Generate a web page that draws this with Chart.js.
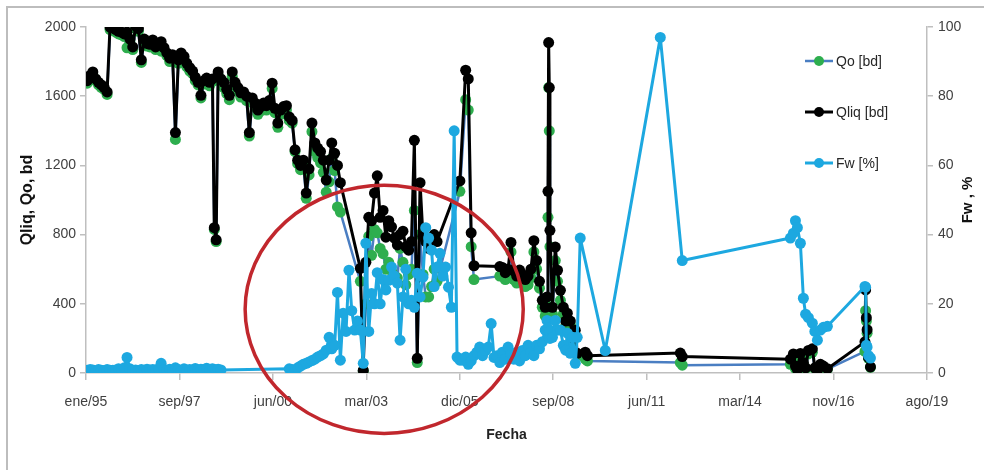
<!DOCTYPE html>
<html>
<head>
<meta charset="utf-8">
<script src="https://cdn.jsdelivr.net/npm/chart.js@4.4.1/dist/chart.umd.min.js"></script>
<style>
  html, body { margin: 0; padding: 0; background: #ffffff; }
  #wrap { width: 984px; height: 470px; position: relative; }
</style>
</head>
<body>
<div id="wrap"><canvas id="prod" width="984" height="470"></canvas></div>
<script>
// Production history of the well: liquid rate, oil rate and water cut.
const dates = [
  // 1995
  '1995-01','1995-02','1995-03','1995-04','1995-05','1995-06','1995-07','1995-08','1995-09','1995-10','1995-11','1995-12',
  // 1996
  '1996-01','1996-02','1996-03','1996-04','1996-05','1996-06','1996-07','1996-08','1996-09','1996-10','1996-11','1996-12',
  // 1997
  '1997-01','1997-02','1997-03','1997-04','1997-05','1997-06','1997-07','1997-08','1997-09','1997-10','1997-11','1997-12',
  // 1998
  '1998-01','1998-02','1998-03','1998-04','1998-05','1998-06','1998-07','1998-08','1998-09','1998-10-05','1998-10-25','1998-11','1998-12',
  // 1999
  '1999-01','1999-02','1999-03','1999-04','1999-05','1999-06','1999-07','1999-08','1999-09','1999-10','1999-11','1999-12',
  // 2000
  '2000-01','2000-02','2000-03','2000-04','2000-05','2000-06','2000-07','2000-08','2000-09','2000-10','2000-11','2000-12',
  // 2001
  '2001-01','2001-02','2001-03','2001-04','2001-05','2001-06','2001-07','2001-08','2001-09','2001-10','2001-11','2001-12',
  // 2002
  '2002-01','2002-02','2002-03','2002-04','2002-05','2002-06','2002-07','2002-08','2002-09','2002-10','2002-11','2002-12',
  // 2003
  '2003-01','2003-02','2003-03','2003-04','2003-05','2003-06','2003-07','2003-08','2003-09','2003-10','2003-11','2003-12',
  // 2004
  '2004-01','2004-02','2004-03','2004-04','2004-05','2004-06','2004-07','2004-08','2004-09','2004-10','2004-11','2004-12',
  // 2005
  '2005-01','2005-02','2005-03','2005-04','2005-05','2005-06','2005-07','2005-08','2005-09','2005-10','2005-11','2005-12',
  // 2006
  '2006-01','2006-02','2006-03','2006-04','2006-05','2006-06','2006-07','2006-08','2006-09','2006-10','2006-11','2006-12',
  // 2007
  '2007-01','2007-02','2007-03','2007-04','2007-05','2007-06','2007-07','2007-08','2007-09','2007-10','2007-11','2007-12',
  // 2008 (first half)
  '2008-01','2008-02','2008-03','2008-04','2008-05','2008-06',
  // 2008 - 2012, irregular tests
  '2008-07-05','2008-07-15','2008-07-22','2008-07-29','2008-08-05','2008-09-01','2008-10-01','2008-10-25','2008-11-25','2008-12-26',
  '2009-01-20','2009-02-07','2009-03-11','2009-04-05','2009-05-03','2009-05-24','2009-06-25','2009-08-18','2009-09-10',
  '2010-03-20','2011-10-30','2012-05-31','2012-06-21',
  // 2015 - 2016
  '2015-08-22','2015-09-23','2015-10-15','2015-11-05','2015-12-07','2016-01-08','2016-02-01','2016-03-02','2016-04-13',
  '2016-05-10','2016-06-06','2016-07-08','2016-08-09','2016-09-21',
  // 2017
  '2017-10-28','2017-11-04','2017-11-12','2017-11-20','2017-12-05','2017-12-26'
];

// Liquid rate, bd
const qliq = [
  1690,1720,1740,1700,1680,1665,1650,1625,2000,1995,1985,1975,
  1970,1960,1970,1930,1885,2005,1990,1810,1930,1905,1900,1925,
  1885,1900,1915,1880,1850,1820,1840,1390,1810,1850,1830,1790,
  1765,1745,1710,1680,1605,1690,1705,1680,1700,840,770,1740,1700,
  1680,1640,1605,1740,1680,1650,1620,1625,1600,1390,1590,1560,
  1520,1540,1560,1545,1575,1675,1530,1445,1520,1540,1545,1480,
  1460,1290,1230,1200,1230,1040,1180,1445,1330,1300,1280,1230,
  1115,1230,1330,1270,1200,1100,null,null,null,null,null,null,
  605,15,640,900,880,1040,1140,900,940,785,880,845,
  780,740,800,820,730,710,760,1345,85,1100,790,760,
  720,770,800,760,null,null,null,null,null,null,null,1110,
  null,1750,1700,810,620,null,null,null,null,null,null,null,
  null,615,610,580,600,755,590,560,595,570,540,560,
  600,765,650,530,420,380,
  440,1050,1910,1650,825,380,728,594,478,380,
  300,346,300,200,247,114,null,120,100,
  null,null,115,95,
  80,110,40,20,113,60,30,130,140,
  30,15,50,40,25,
  180,480,320,250,90,35
];

// Oil rate, bd
const qo = [
  1675,1705,1725,1690,1665,1650,1640,1610,1985,1980,1970,1960,
  1955,1945,1880,1915,1870,1990,1975,1795,1915,1890,1885,1910,
  1870,1885,1860,1865,1835,1800,1820,1350,1790,1835,1810,1770,
  1745,1730,1690,1665,1590,1670,1690,1660,1685,830,760,1720,1680,
  1650,1615,1580,1715,1655,1625,1595,1600,1575,1370,1565,1535,
  1495,1515,1535,1520,1550,1645,1505,1420,1495,1515,1520,1460,
  1445,1280,1210,1175,1200,1010,1145,1395,1280,1245,1215,1160,
  1045,1105,1240,1170,960,930,null,null,null,null,null,null,
  530,12,400,790,680,830,810,720,690,600,640,590,
  560,550,720,640,510,570,600,940,60,800,570,440,
  440,500,600,530,null,null,null,null,null,null,null,1050,
  null,1580,1520,730,540,null,null,null,null,null,null,null,
  null,560,560,540,550,700,540,520,560,530,500,510,
  550,700,600,490,380,330,
  390,900,1650,1400,730,340,650,530,420,340,
  270,310,280,180,220,100,null,80,70,
  null,null,60,45,
  50,65,25,12,90,50,25,110,120,
  25,13,45,35,22,
  125,360,300,230,85,33
];

// Water cut, %
const fw = [
  0.8,1.0,0.9,0.6,1.0,0.8,0.7,1.0,0.8,0.8,0.9,1.2,
  1.0,1.5,4.5,1.2,0.8,0.9,0.7,1.0,0.8,1.1,0.9,1.0,
  0.9,1.2,2.8,1.0,0.8,1.1,0.9,1.5,1.0,0.7,1.2,0.9,
  1.0,0.8,1.3,0.9,1.1,1.0,1.4,0.8,1.2,1.0,0.9,1.1,0.9,
  null,null,null,null,null,null,null,null,null,null,null,null,
  null,null,null,null,null,null,null,null,null,null,null,1.2,
  1.0,0.5,1.5,2.0,2.5,2.8,3.2,3.6,4.0,4.6,5.0,5.5,
  6.6,10.3,7.0,8.0,23.3,3.7,17.3,12.0,29.7,18.0,12.4,15.0,
  12.4,2.8,37.5,12.0,23.0,20.0,29.0,20.0,27.0,24.0,26.8,30.6,
  28.0,26.0,9.5,22.0,30.0,20.0,21.0,19.0,28.8,22.0,27.7,42.0,
  39.0,35.5,25.0,30.6,34.6,28.0,30.6,24.8,19.0,70.0,4.6,3.7,
  3.7,4.6,2.5,3.5,5.0,6.0,7.5,5.0,6.5,7.5,14.3,4.5,
  5.0,3.0,6.0,4.0,7.5,5.5,4.0,6.0,3.5,6.5,5.0,8.0,
  6.0,5.0,8.0,7.0,9.0,12.4,
  15.2,13.0,10.3,12.0,10.0,10.3,15.2,12.4,12.4,8.0,
  6.6,11.5,5.7,10.3,2.8,10.3,39.0,null,null,
  6.5,97.0,null,32.5,
  39.0,40.4,44.0,42.0,37.5,21.6,17.0,16.0,14.4,
  12.0,9.5,12.4,13.2,13.5,
  25.0,24.8,8.0,7.5,5.0,4.3
];

// Date axis ticks (every 1000 days) and their labels
const xTicks = ['1995-01-01','1997-09-27','2000-06-23','2003-03-20','2005-12-14',
                '2008-09-09','2011-06-06','2014-03-02','2016-11-26','2019-08-23'];
const xTickLabels = ['ene/95','sep/97','jun/00','mar/03','dic/05','sep/08','jun/11','mar/14','nov/16','ago/19'];

// Highlighted period (ellipse in data units)
const highlight = { center: '2003-09-27', value: 368, halfDays: 1488, halfRate: 717 };

// Day number (spreadsheet serial) of a 'YYYY-MM' or 'YYYY-MM-DD' string
function toSerial(s) {
  const p = s.split('-').map(Number);
  return (Date.UTC(p[0], p[1] - 1, p[2] || 15) - Date.UTC(1899, 11, 30)) / 86400000;
}
const series = arr => dates.map((d, i) => ({ x: toSerial(d), y: arr[i] }));

const FONT = "'Liberation Sans', Arial, sans-serif";
const AXIS_GRAY = '#BFBFBF';
Chart.defaults.font.family = FONT;

const decor = {
  id: 'decor',
  beforeDraw(chart) {
    const c = chart.ctx;
    c.save();
    c.fillStyle = '#ffffff';
    c.fillRect(0, 0, chart.width, chart.height);
    c.strokeStyle = '#BDBDBD';
    c.lineWidth = 2;
    c.beginPath();
    c.moveTo(7, chart.height);
    c.lineTo(7, 7);
    c.lineTo(chart.width, 7);
    c.stroke();
    c.restore();
  },
  afterDatasetsDraw(chart) {
    const c = chart.ctx, x = chart.scales.x, y = chart.scales.y;
    const cs = toSerial(highlight.center);
    const cx = x.getPixelForValue(cs);
    const cy = y.getPixelForValue(highlight.value);
    const rx = x.getPixelForValue(cs + highlight.halfDays) - cx;
    const ry = cy - y.getPixelForValue(highlight.value + highlight.halfRate);
    c.save();
    c.strokeStyle = '#C1272D';
    c.lineWidth = 3.5;
    c.beginPath();
    c.ellipse(cx, cy, rx, ry, 0, 0, Math.PI * 2);
    c.stroke();
    c.restore();
  },
  afterDraw(chart) {
    const c = chart.ctx;
    // legend
    const lx = 805, ly = 61, gap = 51;
    chart.data.datasets.forEach((ds, i) => {
      const yy = ly + i * gap;
      c.save();
      c.strokeStyle = ds.borderColor;
      c.lineWidth = ds.borderWidth;
      c.beginPath();
      c.moveTo(lx, yy);
      c.lineTo(lx + 28, yy);
      c.stroke();
      c.fillStyle = ds.pointBackgroundColor;
      c.beginPath();
      c.arc(lx + 14, yy, 5, 0, Math.PI * 2);
      c.fill();
      c.fillStyle = '#262626';
      c.font = '14px ' + FONT;
      c.textBaseline = 'middle';
      c.fillText(ds.label, lx + 31, yy + 1);
      c.restore();
    });
    // right axis title
    c.save();
    c.translate(968, (chart.chartArea.top + chart.chartArea.bottom) / 2);
    c.rotate(-Math.PI / 2);
    c.fillStyle = '#111';
    c.font = 'bold 15px ' + FONT;
    c.textAlign = 'center';
    c.textBaseline = 'middle';
    c.fillText('Fw , %', 0, 0);
    c.restore();
  }
};

const tickFont = { size: 14 };
const gridOpts = { drawOnChartArea: false, drawTicks: true, tickLength: 6, color: AXIS_GRAY, lineWidth: 1.5 };
const lineStyle = { borderJoinStyle: 'round', borderCapStyle: 'round', pointRadius: 5.5, pointBorderWidth: 0 };

new Chart(document.getElementById('prod'), {
  type: 'line',
  data: {
    datasets: [
      Object.assign({
        label: 'Qo [bd]', data: series(qo), yAxisID: 'y', order: 3,
        borderColor: '#4A7EC2', borderWidth: 2.5,
        pointBackgroundColor: '#2EAE4E', pointBorderColor: '#2EAE4E'
      }, lineStyle),
      Object.assign({
        label: 'Qliq [bd]', data: series(qliq), yAxisID: 'y', order: 2,
        borderColor: '#000000', borderWidth: 3,
        pointBackgroundColor: '#000000', pointBorderColor: '#000000'
      }, lineStyle),
      Object.assign({
        label: 'Fw [%]', data: series(fw), yAxisID: 'y1', order: 1,
        borderColor: '#1DA8E0', borderWidth: 3,
        pointBackgroundColor: '#1DA8E0', pointBorderColor: '#1DA8E0'
      }, lineStyle)
    ]
  },
  options: {
    responsive: false,
    animation: false,
    events: [],
    spanGaps: true,
    elements: { line: { tension: 0 } },
    layout: { padding: { top: 27, left: 0, right: 0, bottom: 0 } },
    plugins: { legend: { display: false }, tooltip: { enabled: false } },
    scales: {
      x: {
        type: 'linear',
        min: toSerial(xTicks[0]),
        max: toSerial(xTicks[xTicks.length - 1]),
        afterBuildTicks: s => { s.ticks = xTicks.map(d => ({ value: toSerial(d) })); },
        afterFit: s => { s.height = 97; },
        ticks: { autoSkip: false, maxRotation: 0, padding: 14, color: '#404040', font: tickFont,
                 callback: (v, i) => xTickLabels[i] },
        grid: Object.assign({}, gridOpts, { tickLength: 7 }),
        border: { color: AXIS_GRAY, width: 1.5 },
        title: { display: true, text: 'Fecha', color: '#222', font: { size: 14, weight: 'bold' }, padding: { bottom: 26 } }
      },
      y: {
        position: 'left', min: 0, max: 2000,
        afterFit: s => { s.width = 86; },
        ticks: { stepSize: 400, padding: 4, color: '#404040', font: tickFont, callback: v => String(v) },
        grid: gridOpts,
        border: { color: AXIS_GRAY, width: 1.5 },
        title: { display: true, text: 'Qliq, Qo, bd', color: '#111', font: { size: 16, weight: 'bold' }, padding: { top: 18 } }
      },
      y1: {
        position: 'right', min: 0, max: 100,
        afterFit: s => { s.width = 57; },
        ticks: { stepSize: 20, padding: 5, color: '#404040', font: tickFont, callback: v => String(v) },
        grid: gridOpts,
        border: { color: AXIS_GRAY, width: 1.5 }
      }
    }
  },
  plugins: [decor]
});
</script>
</body>
</html>
